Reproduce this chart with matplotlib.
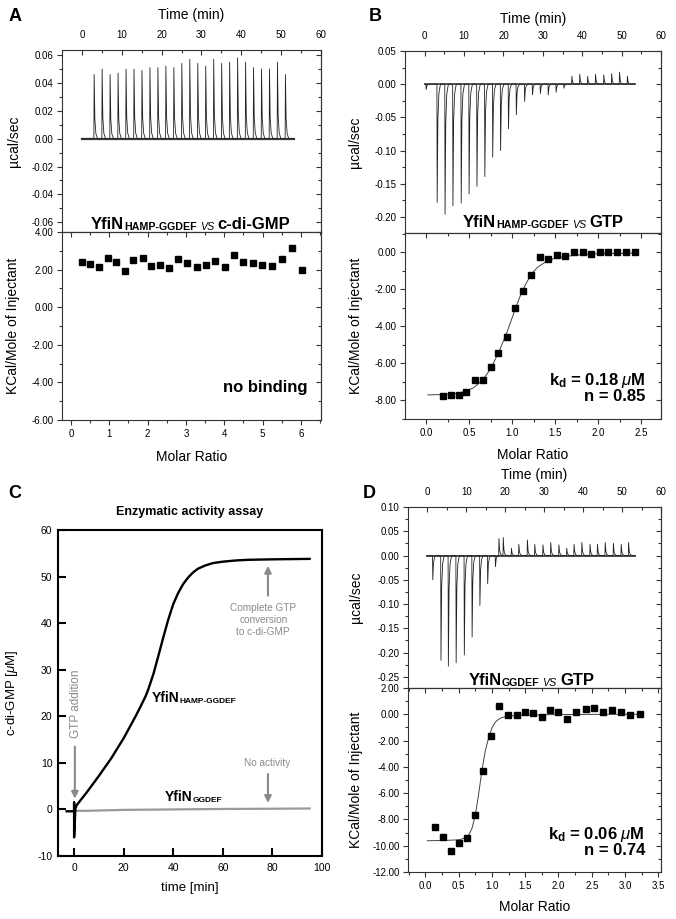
import numpy as np
import matplotlib
matplotlib.use('Agg')
import matplotlib.pyplot as plt
from matplotlib.ticker import MultipleLocator, FuncFormatter

plt.rcParams['font.family'] = ['Liberation Sans', 'DejaVu Sans']
plt.rcParams['axes.unicode_minus'] = False
plt.rcParams['mathtext.fontset'] = 'custom'
plt.rcParams['mathtext.rm'] = 'Liberation Sans'
plt.rcParams['mathtext.it'] = 'Liberation Sans:italic'
plt.rcParams['mathtext.bf'] = 'Liberation Sans:bold'

W, H = 676, 919

# ---- A: YfiN HAMP-GGDEF vs c-di-GMP (raw injections + integrated heats)
a_inj_time = [3.0, 5.0, 7.0, 9.0, 11.0, 13.0, 15.0, 17.0, 19.0, 21.0, 23.0, 25.0, 27.0,
              29.0, 31.0, 33.0, 35.0, 37.0, 39.0, 41.0, 43.0, 45.0, 47.0, 49.0, 51.0]
a_inj_peak = [0.046, 0.050, 0.046, 0.047, 0.050, 0.050, 0.049, 0.051, 0.051, 0.052, 0.051, 0.054, 0.057,
              0.054, 0.052, 0.057, 0.054, 0.055, 0.058, 0.055, 0.051, 0.050, 0.050, 0.055, 0.046]
a_ratio = [0.30, 0.50, 0.73, 0.96, 1.18, 1.41, 1.63, 1.87, 2.10, 2.33, 2.57, 2.80, 3.03,
           3.28, 3.51, 3.76, 4.01, 4.24, 4.50, 4.75, 4.99, 5.24, 5.50, 5.76, 6.02]
a_heat = [2.43, 2.28, 2.13, 2.63, 2.43, 1.93, 2.53, 2.63, 2.17, 2.22, 2.10, 2.55, 2.33,
          2.13, 2.27, 2.45, 2.16, 2.80, 2.40, 2.36, 2.22, 2.20, 2.58, 3.15, 2.00]

# ---- B: YfiN HAMP-GGDEF vs GTP
b_inj_time = [0.3, 3.1, 5.1, 7.1, 9.2, 11.2, 13.2, 15.2, 17.2, 19.2, 21.2, 23.2, 25.3,
              27.3, 29.3, 31.3, 33.3, 35.3, 37.3, 39.3, 41.3, 43.3, 45.4, 47.4, 49.4, 51.4]
b_inj_peak = [-0.008, -0.178, -0.196, -0.183, -0.179, -0.165, -0.154, -0.139, -0.110, -0.100, -0.067,
              -0.046, -0.026, -0.016, -0.014, -0.016, -0.012, -0.006, 0.012, 0.015, 0.012, 0.015,
              0.014, 0.016, 0.018, 0.012]
b_ratio = [0.20, 0.29, 0.38, 0.47, 0.57, 0.66, 0.75, 0.84, 0.94, 1.03, 1.13, 1.22,
           1.32, 1.42, 1.52, 1.62, 1.72, 1.82, 1.92, 2.02, 2.12, 2.22, 2.32, 2.43]
b_heat = [-7.78, -7.72, -7.72, -7.54, -6.91, -6.91, -6.17, -5.42, -4.58, -3.02, -2.10, -1.25,
          -0.29, -0.36, -0.16, -0.20, 0.00, 0.00, -0.09, 0.00, 0.00, 0.00, 0.00, 0.00]
b_fit_ratio = [0.02, 0.20, 0.35, 0.45, 0.55, 0.65, 0.75, 0.85, 0.95, 1.00, 1.05, 1.10,
               1.15, 1.20, 1.25, 1.30, 1.40, 1.50, 1.60, 1.80, 2.00, 2.20, 2.43]
b_fit_heat = [-7.70, -7.68, -7.62, -7.52, -7.32, -6.95, -6.30, -5.35, -4.20, -3.55, -2.90, -2.30,
              -1.80, -1.38, -1.05, -0.80, -0.50, -0.33, -0.24, -0.14, -0.09, -0.07, -0.05]

# ---- D: YfiN GGDEF vs GTP
d_inj_time = [1.3, 3.4, 5.3, 7.3, 9.4, 11.4, 13.4, 15.4, 17.4, 18.3, 19.4, 21.5, 23.4, 25.6,
              27.5, 29.6, 31.6, 33.7, 35.7, 37.6, 39.6, 41.7, 43.6, 45.6, 47.7, 49.7, 51.6]
d_inj_peak = [-0.050, -0.216, -0.228, -0.221, -0.205, -0.168, -0.103, -0.058, -0.023, 0.035, 0.037,
              0.015, 0.023, 0.032, 0.023, 0.022, 0.027, 0.022, 0.015, 0.023, 0.027, 0.023, 0.023,
              0.027, 0.025, 0.023, 0.027]
d_ratio = [0.14, 0.27, 0.38, 0.50, 0.62, 0.74, 0.87, 0.99, 1.11, 1.24, 1.37, 1.49, 1.62,
           1.75, 1.88, 2.00, 2.13, 2.27, 2.41, 2.54, 2.67, 2.81, 2.94, 3.08, 3.22]
d_heat = [-8.60, -9.34, -10.38, -9.80, -9.39, -7.65, -4.31, -1.63, 0.64, -0.08, -0.08, 0.20, 0.13,
          -0.23, 0.33, 0.18, -0.33, 0.20, 0.43, 0.48, 0.20, 0.33, 0.20, -0.08, 0.00]
d_fit_ratio = [0.03, 0.30, 0.50, 0.60, 0.65, 0.70, 0.75, 0.80, 0.85, 0.90, 0.95, 1.00,
               1.05, 1.10, 1.15, 1.25, 1.50, 2.00, 2.50, 3.22]
d_fit_heat = [-9.62, -9.60, -9.55, -9.42, -9.20, -8.70, -7.70, -6.10, -4.30, -2.80, -1.80, -1.05,
              -0.60, -0.38, -0.25, -0.13, -0.06, -0.02, -0.01, 0.00]

# ---- C: enzymatic activity assay
c_hamp_time = [-3.0, 0.0, 0.0, 0.0, 0.5, 1.0, 5.0, 10.0, 15.0, 20.0, 25.0, 27.0, 29.0, 30.0, 32.0,
               34.0, 36.0, 38.0, 40.0, 42.0, 44.0, 46.0, 48.0, 50.0, 53.0, 56.0, 60.0, 65.0, 70.0,
               80.0, 95.0]
c_hamp_conc = [-0.4, -0.4, 1.5, -6.0, 0.1, 0.9, 3.6, 7.2, 11.0, 15.3, 20.2, 22.3, 24.5, 25.9, 29.1,
               33.0, 37.0, 40.8, 44.1, 46.5, 48.4, 49.8, 50.9, 51.7, 52.4, 52.9, 53.2, 53.45, 53.6,
               53.7, 53.8]
c_ggdef_time = [0.0, 5.0, 20.0, 40.0, 60.0, 80.0, 95.0]
c_ggdef_conc = [-0.3, -0.3, -0.1, 0.0, 0.1, 0.15, 0.2]

# shape of one injection peak in the raw thermograms
peak_dt = [-0.05, 0.0, 0.07, 0.25, 0.5, 0.9]
peak_frac = [0.0, 0.0, 1.0, 0.3, 0.08, 0.0]
trace_end = 53.3


def thermogram(times, peaks):
    t, y = [0.0], [0.0]
    for ti, pi in zip(times, peaks):
        for dt, f in zip(peak_dt, peak_frac):
            t.append(ti + dt)
            y.append(pi * f)
    t.append(trace_end)
    y.append(0.0)
    return t, y


def rect(left, top, right, bottom):
    return [left / W, 1 - bottom / H, (right - left) / W, (bottom - top) / H]


def frac(box, px=None, py=None):
    left, top, right, bottom = box
    fx = 0.5 if px is None else (px - left) / (right - left)
    fy = 0.5 if py is None else (bottom - py) / (bottom - top)
    return fx, fy


def fmt(dec):
    def f(v, pos):
        if abs(v) < 1e-9:
            v = 0.0
        return f'{v:.{dec}f}'
    return FuncFormatter(f)


def itc_axes(fig, box, xlim, ylim, xstep, ystep, xdec, ydec, top_panel):
    ax = fig.add_axes(rect(*box))
    ax.set_xlim(xlim)
    ax.set_ylim(ylim)
    ax.xaxis.set_major_locator(MultipleLocator(xstep))
    ax.xaxis.set_minor_locator(MultipleLocator(xstep / 2))
    ax.yaxis.set_major_locator(MultipleLocator(ystep))
    ax.yaxis.set_minor_locator(MultipleLocator(ystep / 2))
    ax.xaxis.set_major_formatter(fmt(xdec))
    ax.yaxis.set_major_formatter(fmt(ydec))
    for s in ax.spines.values():
        s.set_linewidth(0.8)
        s.set_color('#333333')
    ax.tick_params(which='both', width=0.8, color='#333333', labelsize=7)
    ax.tick_params(which='major', length=3.5)
    ax.tick_params(which='minor', length=2)
    ax.tick_params(axis='y', which='both', direction='out', right=False, pad=2.5)
    sy = ax.secondary_yaxis('right')
    sy.yaxis.set_major_locator(MultipleLocator(ystep))
    sy.yaxis.set_minor_locator(MultipleLocator(ystep / 2))
    sy.spines['right'].set_linewidth(0.8)
    sy.spines['right'].set_color('#333333')
    sy.tick_params(axis='y', which='both', direction='in', labelright=False, width=0.8, color='#333333')
    sy.tick_params(which='major', length=3.5)
    sy.tick_params(which='minor', length=2)
    if top_panel:
        ax.xaxis.tick_top()
        ax.xaxis.set_label_position('top')
        ax.tick_params(axis='x', which='both', direction='in', bottom=False, labelbottom=False, pad=7)
    else:
        ax.tick_params(axis='x', which='both', direction='out', top=False, pad=3)
        sx = ax.secondary_xaxis('top')
        sx.xaxis.set_major_locator(MultipleLocator(xstep))
        sx.xaxis.set_minor_locator(MultipleLocator(xstep / 2))
        sx.spines['top'].set_linewidth(0.8)
        sx.spines['top'].set_color('#333333')
        sx.tick_params(axis='x', which='both', direction='in', labeltop=False, width=0.8, color='#333333')
        sx.tick_params(which='major', length=3.5)
        sx.tick_params(which='minor', length=2)
    return ax


def chain_label(ax, x, y, parts, size_big, size_small, **kw):
    # parts: (text, big?, weight, style); pieces sit on a common bottom line
    s, big, weight, style = parts[0]
    prev = ax.text(x, y, s, fontsize=size_big if big else size_small, fontweight=weight,
                   fontstyle=style, va='baseline', ha='left', **kw)
    for s, big, weight, style in parts[1:]:
        gap = 2.5 if s in ('VS', 'c-di-GMP', 'GTP') else 0.0
        prev = ax.annotate(s, xy=(1, 0), xycoords=prev, xytext=(gap, 0), textcoords='offset points',
                           fontsize=size_big if big else size_small, fontweight=weight,
                           fontstyle=style, va='bottom', ha='left', **kw)


def itc_label(ax, x, y, ligand):
    parts = [('YfiN', True, 'bold', 'normal'), (ligand[0], False, 'bold', 'normal'),
             ('VS', False, 'normal', 'italic'), (ligand[1], True, 'bold', 'normal')]
    chain_label(ax, x, y, parts, 12, 7.7)


fig = plt.figure(figsize=(W / 100, H / 100), dpi=100)

# ======== A ========
box_at = (62, 50, 321, 232)
box_ab = (62, 232, 321, 420)
ax = itc_axes(fig, box_at, (-5, 60), (-0.067, 0.0636), 10, 0.02, 0, 2, True)
t, y = thermogram(a_inj_time, a_inj_peak)
ax.plot([0, trace_end], [0, 0], color='#3a3a3a', lw=1.6)
ax.plot(t, y, color='#222222', lw=0.6)
ax.set_xlabel('Time (min)', fontsize=10)
ax.set_ylabel('µcal/sec', fontsize=10)
ax.xaxis.set_label_coords(*frac(box_at, py=19.5))
ax.yaxis.set_label_coords(*frac(box_at, px=21))
itc_label(ax, 2.2, -0.0645, ('HAMP-GGDEF', 'c-di-GMP'))

ax = itc_axes(fig, box_ab, (-0.23, 6.52), (-6, 4), 1, 2, 0, 2, False)
ax.plot(a_ratio, a_heat, 's', color='black', ms=4.3)
ax.set_xlabel('Molar Ratio', fontsize=10)
ax.set_ylabel('KCal/Mole of Injectant', fontsize=10)
ax.xaxis.set_label_coords(*frac(box_ab, py=450))
ax.yaxis.set_label_coords(*frac(box_ab, px=20))
ax.text(6.16, -4.51, 'no binding', fontsize=12, fontweight='bold', ha='right', va='baseline')

# ======== B ========
box_bt = (405, 51, 661, 233)
box_bb = (405, 233, 661, 419)
ax = itc_axes(fig, box_bt, (-5, 60), (-0.224, 0.05), 10, 0.05, 0, 2, True)
t, y = thermogram(b_inj_time, b_inj_peak)
ax.plot([0, trace_end], [0, 0], color='#3a3a3a', lw=1.2)
ax.plot(t, y, color='#222222', lw=0.6)
ax.set_xlabel('Time (min)', fontsize=10)
ax.set_ylabel('µcal/sec', fontsize=10)
ax.xaxis.set_label_coords(*frac(box_bt, py=23))
ax.yaxis.set_label_coords(*frac(box_bt, px=362))
itc_label(ax, 9.7, -0.215, ('HAMP-GGDEF', 'GTP'))

ax = itc_axes(fig, box_bb, (-0.244, 2.73), (-9.0, 1.03), 0.5, 2, 1, 2, False)
ax.plot(b_fit_ratio, b_fit_heat, color='#444444', lw=0.7)
ax.plot(b_ratio, b_heat, 's', color='black', ms=4.3)
ax.set_xlabel('Molar Ratio', fontsize=10)
ax.set_ylabel('KCal/Mole of Injectant', fontsize=10)
ax.xaxis.set_label_coords(*frac(box_bb, py=448))
ax.yaxis.set_label_coords(*frac(box_bb, px=363))
ax.text(2.55, -7.19, r'k$_\mathbf{d}$ = 0.18 $\mathit{\mu}$M', fontsize=12, fontweight='bold',
        ha='right', va='baseline')
ax.text(2.55, -8.05, 'n = 0.85', fontsize=12, fontweight='bold', ha='right', va='baseline')

# ======== D ========
box_dt = (408, 507, 661, 688)
box_db = (408, 688, 661, 872)
ax = itc_axes(fig, box_dt, (-5, 60), (-0.273, 0.10), 10, 0.05, 0, 2, True)
t, y = thermogram(d_inj_time, d_inj_peak)
ax.plot([0, trace_end], [0, 0], color='#3a3a3a', lw=1.3)
ax.plot(t, y, color='#222222', lw=0.6)
ax.set_xlabel('Time (min)', fontsize=10)
ax.set_ylabel('µcal/sec', fontsize=10)
ax.xaxis.set_label_coords(*frac(box_dt, py=479))
ax.yaxis.set_label_coords(*frac(box_dt, px=363))
itc_label(ax, 10.5, -0.266, ('GGDEF', 'GTP'))

ax = itc_axes(fig, box_db, (-0.26, 3.54), (-12, 2), 0.5, 2, 1, 2, False)
ax.plot(d_fit_ratio, d_fit_heat, color='#444444', lw=0.7)
ax.plot(d_ratio, d_heat, 's', color='black', ms=4.3)
ax.set_xlabel('Molar Ratio', fontsize=10)
ax.set_ylabel('KCal/Mole of Injectant', fontsize=10)
ax.xaxis.set_label_coords(*frac(box_db, py=900))
ax.yaxis.set_label_coords(*frac(box_db, px=363))
ax.text(3.30, -9.49, r'k$_\mathbf{d}$ = 0.06 $\mathit{\mu}$M', fontsize=12, fontweight='bold',
        ha='right', va='baseline')
ax.text(3.30, -10.71, 'n = 0.74', fontsize=12, fontweight='bold', ha='right', va='baseline')

# ======== C ========
box_c = (58, 530, 322, 856)
ax = fig.add_axes(rect(*box_c))
ax.set_xlim(-6.5, 100)
ax.set_ylim(-10, 60)
ax.xaxis.set_major_locator(MultipleLocator(20))
ax.yaxis.set_major_locator(MultipleLocator(10))
for s in ax.spines.values():
    s.set_linewidth(1.5)
ax.tick_params(direction='in', length=5.5, width=1.5, labelsize=7.5)
ax.tick_params(axis='x', pad=5)
ax.tick_params(axis='y', pad=4)
grey = '#8a8a8a'
ax.plot(c_ggdef_time, c_ggdef_conc, color='#9a9a9a', lw=1.6)
ax.plot(c_hamp_time, c_hamp_conc, color='black', lw=1.7)
ax.set_xlabel('time [min]', fontsize=9.5)
ax.set_ylabel(r'c-di-GMP [$\mathit{\mu}$M]', fontsize=9.5)
ax.xaxis.set_label_coords(*frac(box_c, py=882))
ax.yaxis.set_label_coords(*frac(box_c, px=20))
ax.text(0.5, 1.037, 'Enzymatic activity assay', transform=ax.transAxes, fontsize=9,
        fontweight='bold', ha='center', va='bottom')
arrow = dict(arrowstyle='-|>', color=grey, lw=1.5, mutation_scale=10, shrinkA=0, shrinkB=0)
ax.annotate('', xy=(0.3, 2.3), xytext=(0.3, 13.5), arrowprops=arrow)
ax.text(0.7, 22.7, 'GTP addition', rotation=90, color=grey, fontsize=8.5, ha='center', va='center')
ax.annotate('', xy=(78.2, 52.3), xytext=(78.2, 45.9), arrowprops=arrow)
ax.text(76.3, 40.7, 'Complete GTP\nconversion\nto c-di-GMP', color=grey, fontsize=7.2,
        ha='center', va='center', linespacing=1.25)
ax.annotate('', xy=(78.2, 1.4), xytext=(78.2, 7.6), arrowprops=arrow)
ax.text(77.8, 10.0, 'No activity', color=grey, fontsize=7.2, ha='center', va='center')
chain_label(ax, 31.3, 23.0, [('YfiN', True, 'bold', 'normal'), ('HAMP-GGDEF', False, 'bold', 'normal')],
            10, 6)
chain_label(ax, 36.7, 1.8, [('YfiN', True, 'bold', 'normal'), ('GGDEF', False, 'bold', 'normal')],
            10, 6)

# panel letters
for letter, px, py in [('A', 15.5, 16.5), ('B', 375, 16.5), ('C', 15, 494), ('D', 369, 493)]:
    fig.text(px / W, 1 - py / H, letter, fontsize=13, fontweight='bold', ha='center', va='center')

fig.savefig('out.png', dpi=100)
